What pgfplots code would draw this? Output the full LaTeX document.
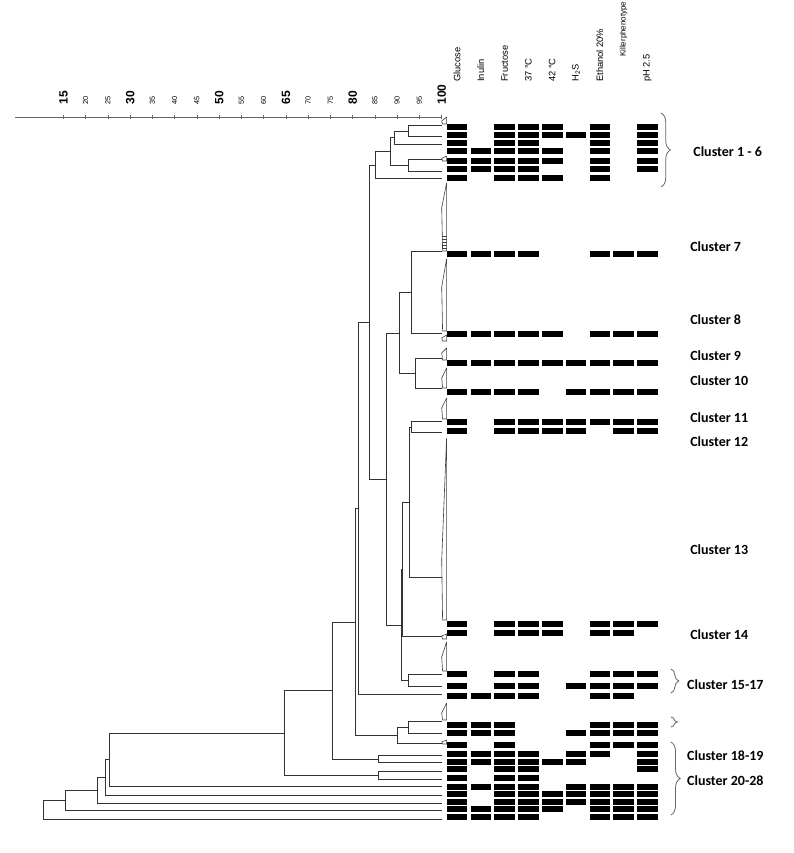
\documentclass[border=0pt]{standalone}
\usepackage{fontspec}
\setmainfont{Liberation Sans}
\newfontfamily\carlito{Carlito}
\usepackage{pgfplots}
\usepackage{pgfplotstable}
\pgfplotsset{compat=1.18}
\usetikzlibrary{decorations.pathreplacing}

% one filled cell of the trait matrix
\pgfdeclareplotmark{cell}{%
  \pgfpathrectangle{\pgfpoint{-7.75pt}{-1.9pt}}{\pgfpoint{15.5pt}{3.8pt}}%
  \pgfusepathqfill}

\newcommand\B[1]{{\fontsize{9}{10}\selectfont\bfseries #1}}
\newcommand\Sm[1]{{\fontsize{5.5}{6}\selectfont #1}}
\newcommand\hdr{\fontsize{7}{8}\selectfont}
\newcommand\clu{\carlito\bfseries\fontsize{10.5}{12}\selectfont}

% rows of the trait matrix: Y position, then Glucose ... pH 2.5
\pgfplotstableread{
Y   c0 c1 c2 c3 c4 c5 c6 c7 c8
726 1  0  1  1  1  0  1  0  1
718 1  0  1  1  1  1  1  0  1
710 1  0  1  1  0  0  1  0  1
702 1  1  1  1  1  0  1  0  1
692 1  1  1  1  1  0  1  0  1
684 1  1  1  1  0  0  1  0  1
675 1  0  1  1  1  0  1  0  0
599 1  1  1  1  0  0  1  1  1
519 1  1  1  1  1  0  1  1  1
490 1  1  1  1  1  1  1  1  1
461 1  1  1  1  0  1  1  1  1
431 1  0  1  1  1  1  1  1  1
422 1  0  1  1  1  1  0  1  1
229 1  0  1  1  1  0  1  1  1
220 1  0  1  1  1  0  1  1  0
179 1  0  1  1  0  0  1  1  1
167 1  0  1  1  0  1  1  1  1
157 1  1  1  1  0  0  1  1  0
128 1  1  1  0  0  0  1  1  1
120 1  1  1  0  0  1  1  1  1
108 1  0  1  0  0  0  1  1  1
99  1  1  1  1  0  1  1  0  1
91  1  1  1  1  1  1  0  0  1
84  1  0  1  1  0  0  0  0  1
75  1  0  1  1  0  0  0  0  0
66  1  1  1  1  0  1  1  1  1
59  1  0  1  1  1  1  1  1  1
51  1  0  1  1  1  1  1  1  1
44  1  1  1  1  1  0  1  1  1
36  1  1  1  1  0  0  1  1  1
}\traits

\begin{document}
\begin{tikzpicture}
\begin{axis}[
    width=595.5pt, height=552pt, scale only axis,
    xmin=0.74, xmax=179.17, ymin=0, ymax=736,
    clip=false,
    axis x line*=top, axis y line=none,
    x axis line style={draw=none},
    xtick={15,20,...,100},
    xticklabels={\B{15},\Sm{20},\Sm{25},\B{30},\Sm{35},\Sm{40},\Sm{45},\B{50},\Sm{55},
                 \Sm{60},\B{65},\Sm{70},\Sm{75},\B{80},\Sm{85},\Sm{90},\Sm{95},\B{100}},
    xtick style={black!60, line width=0.4pt},
    major tick length=2.5pt, xtick align=center,
    xticklabel style={rotate=90, anchor=west, inner sep=0pt},
    xticklabel shift=8pt,
    dend/.style={black!80, line width=0.75pt, mark=none},
    tri/.style={black!75, line width=0.45pt, mark=none},
]
% similarity scale line
\addplot[black!60, line width=0.6pt] coordinates {(4.1,736) (100,736)};

% dendrogram (similarity, position)
\addplot[dend] coordinates {(100,727.3) (92.5,727.3) (92.5,716.3) (100,716.3)};
\addplot[dend] coordinates {(92.5,721.8) (89.3,721.8) (89.3,708.3) (100,708.3)};
\addplot[dend] coordinates {(100,693.7) (92.5,693.7) (92.5,681.3) (100,681.3)};
\addplot[dend] coordinates {(89.3,715.05) (88.4,715.05) (88.4,687.5) (92.5,687.5)};
\addplot[dend] coordinates {(88.4,701.3) (85.2,701.3) (85.2,674) (100,674)};
\addplot[dend] coordinates {(100,601.3) (93.3,601.3) (93.3,519) (100,519)};
\addplot[dend] coordinates {(100,494.7) (94.0,494.7) (94.0,464) (100,464)};
\addplot[dend] coordinates {(93.3,560.15) (90.6,560.15) (90.6,479.35) (94.0,479.35)};
\addplot[dend] coordinates {(100,431.3) (93.3,431.3) (93.3,420.3) (100,420.3)};
\addplot[dend] coordinates {(93.3,425.8) (92.7,425.8) (92.7,275.3) (100,275.3)};
\addplot[dend] coordinates {(92.7,350.55) (91.2,350.55) (91.2,216.3) (100,216.3)};
\addplot[dend] coordinates {(100,178.7) (92.5,178.7) (92.5,166.3) (100,166.3)};
\addplot[dend] coordinates {(91.2,283.4) (91.0,283.4) (91.0,172.5) (92.5,172.5)};
\addplot[dend] coordinates {(90.6,519.75) (87.6,519.75) (87.6,227.95) (91.0,227.95)};
\addplot[dend] coordinates {(85.2,687.65) (83.7,687.65) (83.7,373.85) (87.6,373.85)};
\addplot[dend] coordinates {(83.7,530.75) (81.3,530.75) (81.3,158) (100,158)};
\addplot[dend] coordinates {(100,131.3) (92.5,131.3) (92.5,119.7) (100,119.7)};
\addplot[dend] coordinates {(92.5,125.5) (90.0,125.5) (90.0,109) (100,109)};
\addplot[dend] coordinates {(81.3,344.4) (80.7,344.4) (80.7,117.25) (90.0,117.25)};
\addplot[dend] coordinates {(100,97.3) (85.8,97.3) (85.8,90.3) (100,90.3)};
\addplot[dend] coordinates {(80.7,230.8) (75.5,230.8) (75.5,93.8) (85.8,93.8)};
\addplot[dend] coordinates {(100,81.3) (85.8,81.3) (85.8,73.7) (100,73.7)};
\addplot[dend] coordinates {(75.5,162.3) (64.6,162.3) (64.6,77.5) (85.8,77.5)};
\addplot[dend] coordinates {(64.6,119.9) (25.3,119.9) (25.3,66.3) (100,66.3)};
\addplot[dend] coordinates {(25.3,93.1) (24.4,93.1) (24.4,57) (100,57)};
\addplot[dend] coordinates {(24.4,75.05) (22.6,75.05) (22.6,49.7) (100,49.7)};
\addplot[dend] coordinates {(22.6,62.4) (15.4,62.4) (15.4,42.3) (100,42.3)};
\addplot[dend] coordinates {(15.4,52.35) (10.5,52.35) (10.5,33.7) (100,33.7)};

% collapsed clusters
\addplot[tri] coordinates {(101.1,736) (100,732) (100.2,729) (101.1,729) (101.1,736)};
\addplot[tri] coordinates {(101.1,697) (100,694.5) (100.2,692) (101.1,692) (101.1,697)};
\addplot[tri] coordinates {(101.1,670) (100,645) (100.2,602) (101.1,602) (101.1,670)};
\addplot[tri] coordinates {(101.1,594) (100,566) (100.2,522) (101.1,522) (101.1,594)};
\addplot[tri] coordinates {(101.1,518) (100,515) (100.2,512) (101.1,512) (101.1,518)};
\addplot[tri] coordinates {(101.1,505) (100,500) (100.2,493) (101.1,493) (101.1,505)};
\addplot[tri] coordinates {(101.1,485) (100,475) (100.2,465) (101.1,465) (101.1,485)};
\addplot[tri] coordinates {(101.1,455) (100,445) (100.2,434) (101.1,434) (101.1,455)};
\addplot[tri] coordinates {(101.1,415) (100,293) (100.2,233) (101.1,233) (101.1,415)};
\addplot[tri] coordinates {(101.1,219) (100,217) (100.2,214) (101.1,214) (101.1,219)};
\addplot[tri] coordinates {(101.1,211) (100,196) (100.2,182) (101.1,182) (101.1,211)};
\addplot[tri] coordinates {(101.1,150) (100,140) (100.2,133) (101.1,133) (101.1,150)};
\addplot[tri] coordinates {(101.1,113) (100,111) (100.2,109) (101.1,109) (101.1,113)};
\addplot[tri, unbounded coords=jump] coordinates {
    (100,617) (101.1,617) (nan,nan) (100,614) (101.1,614) (nan,nan)
    (100,611) (101.1,611) (nan,nan) (100,608) (101.1,608) (nan,nan)
    (100,605) (101.1,605)};

% trait matrix
\pgfplotsinvokeforeach{0,...,8}{
  \addplot[only marks, mark=cell, black] table[x expr={103.45+5.348*#1}, y=Y,
      restrict expr to domain={\thisrow{c#1}}{0.5:1.5}] {\traits};
}

% column headers
\node[rotate=90, anchor=west, font=\hdr, inner sep=0pt] at (axis cs:103.45,771) {Glucose};
\node[rotate=90, anchor=west, font=\hdr, inner sep=0pt] at (axis cs:108.80,771) {Inulin};
\node[rotate=90, anchor=west, font=\hdr, inner sep=0pt] at (axis cs:114.15,771) {Fructose};
\node[rotate=90, anchor=west, font=\hdr, inner sep=0pt] at (axis cs:119.49,771) {37 °C};
\node[rotate=90, anchor=west, font=\hdr, inner sep=0pt] at (axis cs:124.84,771) {42 °C};
\node[rotate=90, anchor=west, font=\hdr, inner sep=0pt] at (axis cs:130.19,771) {H\textsubscript{2}S};
\node[rotate=90, anchor=west, font=\hdr, inner sep=0pt] at (axis cs:135.54,771) {Ethanol 20\%};
\node[rotate=90, anchor=west, font=\fontsize{6}{7}\selectfont, inner sep=0pt] at (axis cs:140.89,796) {Killerphenotype};
\node[rotate=90, anchor=west, font=\hdr, inner sep=0pt] at (axis cs:146.23,771) {pH 2.5};

% cluster labels
\node[anchor=west, font=\clu, inner sep=0pt] at (axis cs:156.5,701) {Cluster 1 - 6};
\node[anchor=west, font=\clu, inner sep=0pt] at (axis cs:155.8,606) {Cluster 7};
\node[anchor=west, font=\clu, inner sep=0pt] at (axis cs:155.8,533) {Cluster 8};
\node[anchor=west, font=\clu, inner sep=0pt] at (axis cs:155.8,497) {Cluster 9};
\node[anchor=west, font=\clu, inner sep=0pt] at (axis cs:155.8,472) {Cluster 10};
\node[anchor=west, font=\clu, inner sep=0pt] at (axis cs:155.8,435) {Cluster 11};
\node[anchor=west, font=\clu, inner sep=0pt] at (axis cs:155.8,411) {Cluster 12};
\node[anchor=west, font=\clu, inner sep=0pt] at (axis cs:155.8,303) {Cluster 13};
\node[anchor=west, font=\clu, inner sep=0pt] at (axis cs:155.8,218) {Cluster 14};
\node[anchor=west, font=\clu, inner sep=0pt] at (axis cs:155.1,168) {Cluster 15-17};
\node[anchor=west, font=\clu, inner sep=0pt] at (axis cs:155.1,97) {Cluster 18-19};
\node[anchor=west, font=\clu, inner sep=0pt] at (axis cs:155.1,72) {Cluster 20-28};

% braces
\draw[decorate, decoration={brace, amplitude=7pt}, black!60, line width=0.6pt]
  (axis cs:149.3,740) -- (axis cs:149.3,666);
\draw[decorate, decoration={brace, amplitude=6pt}, black!60, line width=0.6pt]
  (axis cs:151.5,184) -- (axis cs:151.5,160);
\draw[decorate, decoration={brace, amplitude=5pt}, black!60, line width=0.6pt]
  (axis cs:151.5,136) -- (axis cs:151.5,126);
\draw[decorate, decoration={brace, amplitude=7pt}, black!60, line width=0.6pt]
  (axis cs:151.5,111) -- (axis cs:151.5,38);

\coordinate (bbl) at (axis cs:0.74,0);
\coordinate (btr) at (axis cs:179.17,853);
\end{axis}
\pgfresetboundingbox
\path (bbl) rectangle (btr);
\end{tikzpicture}
\end{document}
